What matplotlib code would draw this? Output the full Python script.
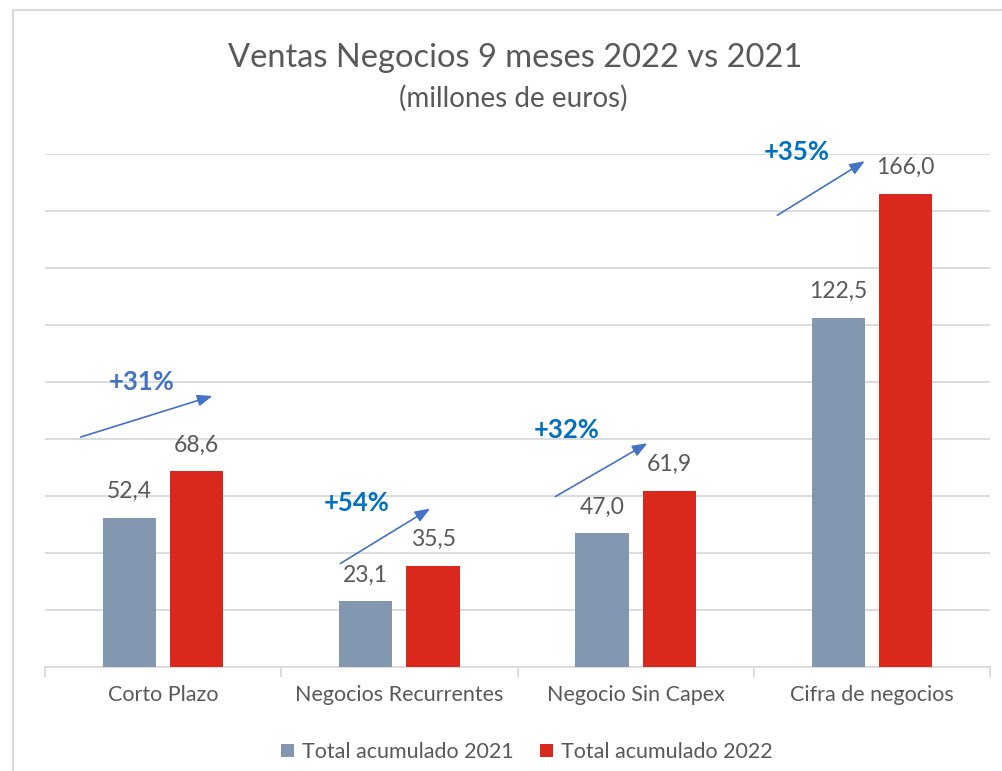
import matplotlib.pyplot as plt
from matplotlib.patches import Rectangle
import numpy as np

plt.rcParams['font.family'] = ['Lato', 'DejaVu Sans']

categorias = ["Corto Plazo", "Negocios Recurrentes", "Negocio Sin Capex", "Cifra de negocios"]
total_2021 = [52.4, 23.1, 47.0, 122.5]
total_2022 = [68.6, 35.5, 61.9, 166.0]
variacion = ["+31%", "+54%", "+32%", "+35%"]
var_colores = ["#4472C4", "#0070C0", "#0070C0", "#0070C0"]

gris = "#8497B0"
rojo = "#DA291C"
texto = "#595959"

fig = plt.figure(figsize=(10.03, 7.71), dpi=100)
fig.patches.append(Rectangle((13 / 1003, -0.01), 1.0, 1 - 10 / 771 + 0.01, transform=fig.transFigure,
                             fill=False, edgecolor="#D9D9D9", linewidth=1.5))
ax = fig.add_axes([45 / 1003, 104 / 771, 945 / 1003, 513 / 771])

x = np.arange(len(categorias))
w = 0.225
b1 = ax.bar(x - 0.03 - w / 2, total_2021, w, color=gris, label="Total acumulado 2021", zorder=3)
b2 = ax.bar(x + 0.03 + w / 2, total_2022, w, color=rojo, label="Total acumulado 2022", zorder=3)

for bars, vals in [(b1, total_2021), (b2, total_2022)]:
    for r, v in zip(bars, vals):
        ax.text(r.get_x() + r.get_width() / 2, v + 5.5, f"{v:.1f}".replace(".", ","),
                ha="center", va="bottom", fontsize=16.5, color=texto)

# flechas de variacion (inicio, fin, posicion del texto) en coordenadas de datos
flechas = [((-0.36, 80.4), (0.22, 95.4), (-0.09, 100.0)),
           ((0.74, 35.8), (1.14, 56.1), (0.82, 57.5)),
           ((1.65, 59.3), (2.06, 79.0), (1.71, 83.2)),
           ((2.59, 158.0), (2.98, 178.0), (2.68, 180.7))]
for (ini, fin, pos), txt, c in zip(flechas, variacion, var_colores):
    ax.annotate("", xy=fin, xytext=ini,
                arrowprops=dict(arrowstyle="-|>,head_length=0.9,head_width=0.35", color="#4472C4", lw=1.2),
                annotation_clip=False)
    ax.text(pos[0], pos[1], txt, ha="center", va="center", fontsize=18.5, fontweight="bold",
            color=c, clip_on=False)

ax.set_xlim(-0.5, 3.5)
ax.set_ylim(0, 180)
ax.set_yticks(np.arange(20, 181, 20))
ax.set_yticklabels([])
ax.tick_params(axis="y", length=0)
ax.grid(axis="y", color="#D9D9D9", linewidth=1.3, zorder=0)
ax.set_xticks(x)
ax.set_xticklabels(categorias, fontsize=15.5, color=texto)
ax.set_xticks(np.arange(-0.5, 3.6, 1), minor=True)
ax.tick_params(axis="x", which="major", length=0, pad=13)
ax.tick_params(axis="x", which="minor", length=7, color="#D9D9D9", width=1.3)
for s in ["top", "right", "left"]:
    ax.spines[s].set_visible(False)
ax.spines["bottom"].set_color("#D9D9D9")
ax.spines["bottom"].set_linewidth(1.3)

fig.text(515 / 1003, 1 - 58 / 771, "Ventas Negocios 9 meses 2022 vs 2021", ha="center", va="center",
         fontsize=23.5, color=texto)
fig.text(513 / 1003, 1 - 98 / 771, "(millones de euros)", ha="center", va="center",
         fontsize=20, color=texto)

fig.legend(loc="center", bbox_to_anchor=(527 / 1003, 1 - 752 / 771), ncol=2, frameon=False,
           fontsize=15.5, labelcolor=texto, handlelength=0.6, handleheight=0.6, columnspacing=1.2,
           handletextpad=0.4)

fig.savefig("out.png", dpi=100)
